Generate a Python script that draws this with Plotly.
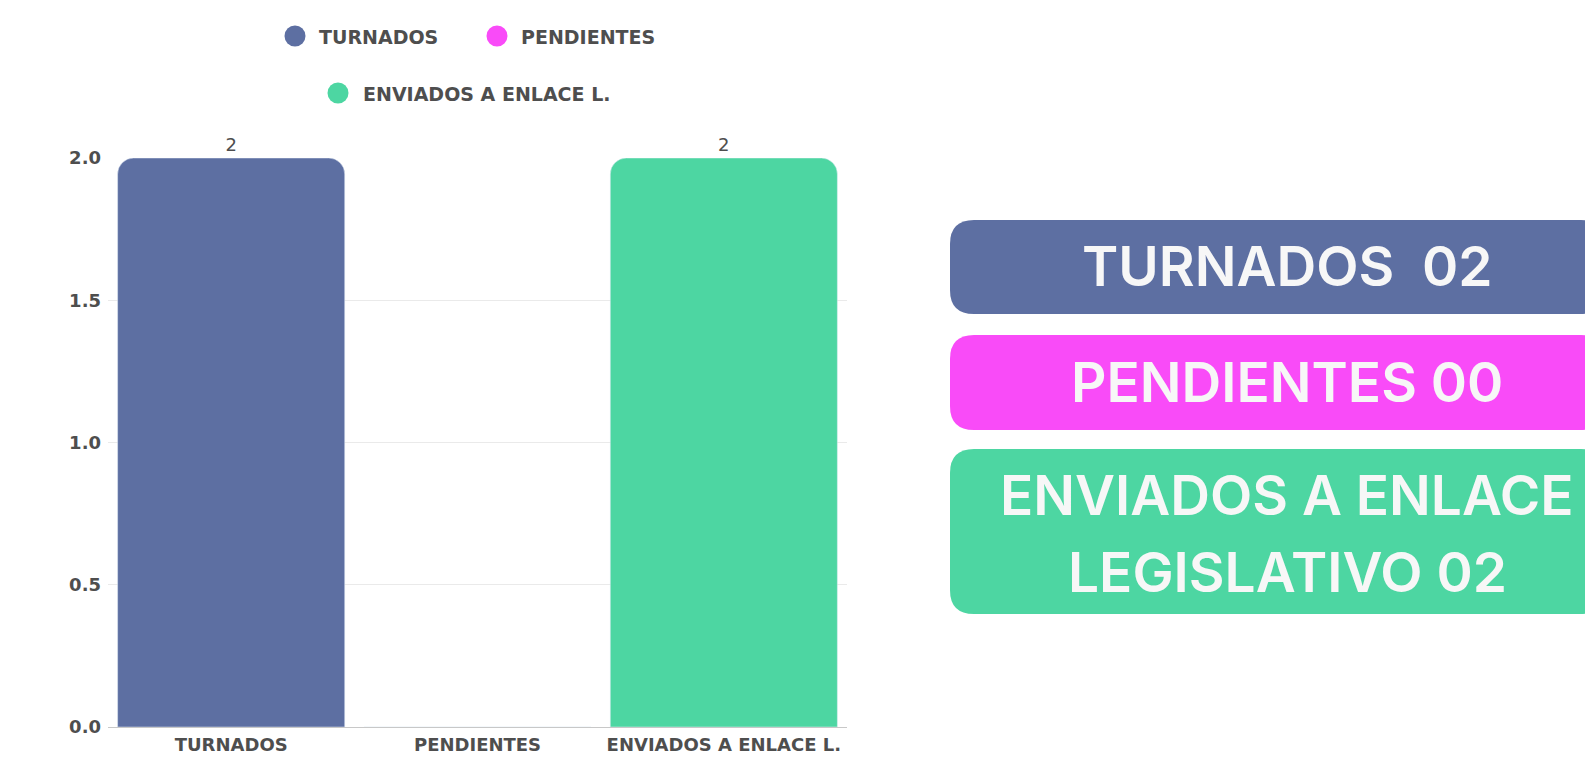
import plotly.graph_objects as go

categories = ["TURNADOS", "PENDIENTES", "ENVIADOS A ENLACE L."]
values = [2, 0, 2]
colors = ["#5D6FA2", "#F94BF8", "#4DD6A2"]
summary_lines = [["TURNADOS  02"], ["PENDIENTES 00"], ["ENVIADOS A ENLACE", "LEGISLATIVO 02"]]
y_ticks = [0, 0.5, 1, 1.5, 2]
y_ticktext = ["0.0", "0.5", "1.0", "1.5", "2.0"]

W, H = 1585, 757
ML, MR, MT, MB = 108, 738, 158, 30
PW, PH = W - ML - MR, H - MT - MB

LABEL_FONT = "DejaVu Sans"
LABEL_COLOR = "#4E4E4E"


def px(xp):
    return (xp - ML) / PW


def py(yp):
    return (H - MB - yp) / PH


fig = go.Figure()
fig.add_trace(go.Bar(
    x=categories, y=values,
    marker=dict(color=colors, cornerradius=16),
    text=[str(v) if v > 0 else "" for v in values],
    textposition="outside", cliponaxis=False, constraintext="none",
    textfont=dict(family=LABEL_FONT, size=18, color=LABEL_COLOR),
    showlegend=False, hoverinfo="skip",
))

shapes = []
annotations = []

# legend drawn as circles + text
legend_pos = [(295, 36, 318), (497, 36, 520), (338, 93, 362)]
for name, col, (cx, cy, tx) in zip(categories, colors, legend_pos):
    r = 10.5
    shapes.append(dict(type="circle", xref="paper", yref="paper",
                       x0=px(cx - r), x1=px(cx + r), y0=py(cy + r), y1=py(cy - r),
                       fillcolor=col, line=dict(width=0)))
    annotations.append(dict(text=f"<b>{name}</b>", xref="paper", yref="paper",
                            x=px(tx - 1), y=py(cy + 1), xanchor="left", yanchor="middle",
                            showarrow=False,
                            font=dict(family=LABEL_FONT, size=19, color=LABEL_COLOR)))


def rounded_rect(x0, y0, x1, y1, r):
    return (f"M {px(x0 + r)},{py(y0)} L {px(x1 - r)},{py(y0)} "
            f"Q {px(x1)},{py(y0)} {px(x1)},{py(y0 + r)} "
            f"L {px(x1)},{py(y1 - r)} Q {px(x1)},{py(y1)} {px(x1 - r)},{py(y1)} "
            f"L {px(x0 + r)},{py(y1)} Q {px(x0)},{py(y1)} {px(x0)},{py(y1 - r)} "
            f"L {px(x0)},{py(y0 + r)} Q {px(x0)},{py(y0)} {px(x0 + r)},{py(y0)} Z")


boxes = [(950, 220, 1605, 314), (950, 335, 1605, 430), (950, 449, 1605, 614)]
text_y = [[266], [382], [495, 572]]
for (x0, y0, x1, y1), col, lines, ys in zip(boxes, colors, summary_lines, text_y):
    shapes.append(dict(type="path", xref="paper", yref="paper",
                       path=rounded_rect(x0, y0, x1, y1, 24),
                       fillcolor=col, line=dict(width=0), layer="above"))
    for ln, yy in zip(lines, ys):
        annotations.append(dict(text=ln, xref="paper", yref="paper",
                                x=px(1287), y=py(yy), xanchor="center", yanchor="middle",
                                showarrow=False,
                                font=dict(family="Inter", size=55, weight=600,
                                          color="#F7F7F7")))

fig.update_layout(
    width=W, height=H,
    margin=dict(l=ML, r=MR, t=MT, b=MB, autoexpand=False),
    paper_bgcolor="white", plot_bgcolor="white",
    bargap=0.078,
    showlegend=False,
    xaxis=dict(showgrid=False, showline=False, ticks="",
               tickfont=dict(family=LABEL_FONT, size=18, color=LABEL_COLOR, weight="bold"),
               ticklabelstandoff=5),
    yaxis=dict(range=[0, 2], tickvals=y_ticks, ticktext=y_ticktext,
               gridcolor="#EAEAEA", zeroline=True, zerolinecolor="#C8C8C8",
               zerolinewidth=1, showline=False,
               tickfont=dict(family=LABEL_FONT, size=18, color=LABEL_COLOR, weight="bold"),
               ticklabelstandoff=6),
    shapes=shapes, annotations=annotations,
)

fig.write_html("out.html", config={"displayModeBar": False},
               post_script="document.body.style.margin='0';document.body.style.overflow='hidden';")
